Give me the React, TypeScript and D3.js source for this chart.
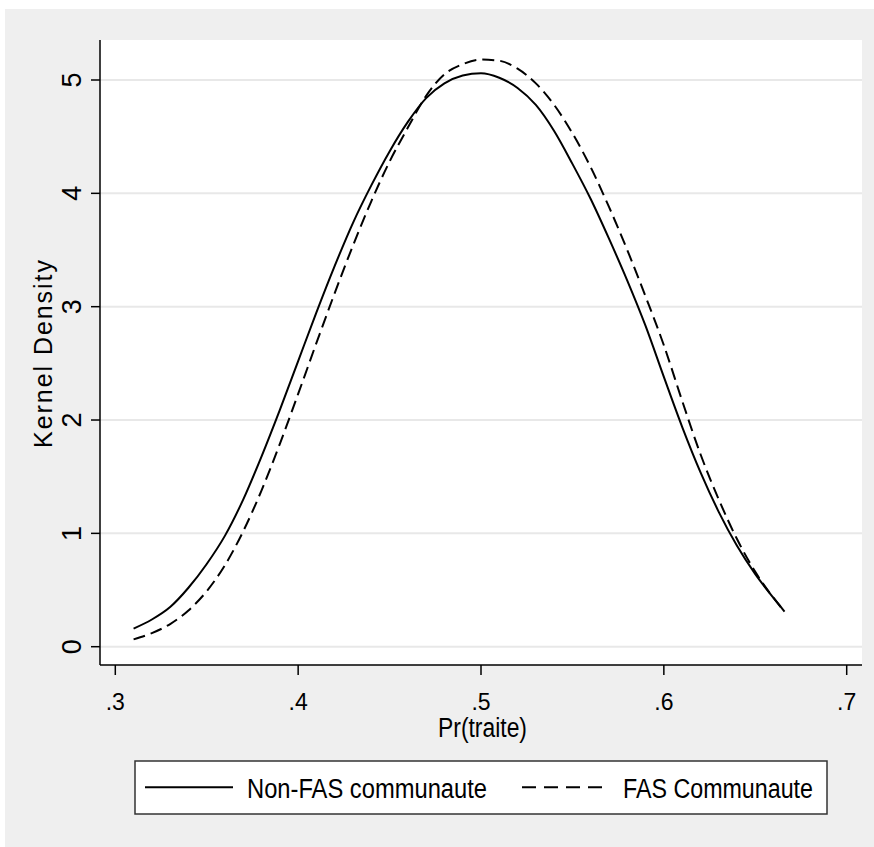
import React from "react";
import * as d3 from "d3";

// kernel density estimates
const xGrid = [
  0.31, 0.32, 0.33, 0.34, 0.35, 0.36, 0.37, 0.38, 0.39, 0.4, 0.41, 0.42, 0.43,
  0.44, 0.45, 0.46, 0.47, 0.48, 0.49, 0.5, 0.51, 0.52, 0.53, 0.54, 0.55, 0.56,
  0.57, 0.58, 0.59, 0.6, 0.61, 0.62, 0.63, 0.64, 0.65, 0.66, 0.666,
];
const nonFas = [
  0.16, 0.24, 0.35, 0.52, 0.73, 0.98, 1.3, 1.68, 2.09, 2.52, 2.95, 3.36, 3.74,
  4.07, 4.37, 4.63, 4.84, 4.97, 5.04, 5.06, 5.02, 4.93, 4.78, 4.55, 4.26, 3.95,
  3.6, 3.23, 2.83, 2.38, 1.94, 1.54, 1.19, 0.89, 0.64, 0.43, 0.31,
];
const fas = [
  0.065, 0.12, 0.2, 0.32, 0.49, 0.72, 1.02, 1.38, 1.79, 2.23, 2.68, 3.12, 3.54,
  3.93, 4.28, 4.58, 4.86, 5.05, 5.14, 5.18, 5.17, 5.1, 4.97, 4.78, 4.53, 4.23,
  3.88, 3.5, 3.09, 2.66, 2.17, 1.7, 1.3, 0.95, 0.66, 0.43, 0.31,
];
const xTicks = [0.3, 0.4, 0.5, 0.6, 0.7];
const yTicks = [0, 1, 2, 3, 4, 5];
const seriesNames = ["Non-FAS communaute", "FAS Communaute"];

const W = 874;
const H = 847;
const plot = { left: 100, right: 862, top: 40, bottom: 665 };
const font = "'Liberation Sans', Arial, sans-serif";

export default function App() {
  const x = d3.scaleLinear().domain([0.3, 0.7]).range([115.3, 846.7]);
  const y = d3.scaleLinear().domain([0, 5]).range([646.7, 80]);

  const line = d3
    .line<number>()
    .x((_, i) => x(xGrid[i]))
    .y((d) => y(d))
    .curve(d3.curveMonotoneX);

  const fmt = (v: number) => d3.format(".1f")(v).replace(/^0/, "");

  return (
    <svg
      width={W}
      height={H}
      style={{ position: "absolute", left: 0, top: 0 }}
      fontFamily={font}
    >
      <rect x={0} y={0} width={W} height={H} fill="#fff" />
      <rect x={5} y={9} width={W - 5} height={H - 9} fill="#efefef" />
      <rect
        x={plot.left}
        y={plot.top}
        width={plot.right - plot.left}
        height={plot.bottom - plot.top}
        fill="#fff"
      />

      {/* grid */}
      {yTicks.map((t) => (
        <line
          key={"g" + t}
          x1={plot.left}
          x2={plot.right}
          y1={y(t)}
          y2={y(t)}
          stroke="#e8e8e8"
          strokeWidth={2}
        />
      ))}

      {/* curves */}
      <path d={line(nonFas) || ""} fill="none" stroke="#000" strokeWidth={2} />
      <path
        d={line(fas) || ""}
        fill="none"
        stroke="#000"
        strokeWidth={2}
        strokeDasharray="12,6"
      />

      {/* axes */}
      <line x1={plot.left} x2={plot.left} y1={plot.top} y2={plot.bottom} stroke="#000" strokeWidth={1.5} />
      <line x1={plot.left} x2={plot.right} y1={plot.bottom} y2={plot.bottom} stroke="#000" strokeWidth={1.5} />

      {yTicks.map((t) => (
        <g key={"y" + t}>
          <line x1={91} x2={plot.left} y1={y(t)} y2={y(t)} stroke="#000" strokeWidth={1.5} />
          <text
            transform={`translate(81,${y(t)}) rotate(-90)`}
            textAnchor="middle"
            fontSize={27}
          >
            {t}
          </text>
        </g>
      ))}

      {xTicks.map((t) => (
        <g key={"x" + t}>
          <line x1={x(t)} x2={x(t)} y1={plot.bottom} y2={675} stroke="#000" strokeWidth={1.5} />
          <text x={x(t)} y={710} textAnchor="middle" fontSize={23}>
            {fmt(t)}
          </text>
        </g>
      ))}

      <text
        x={482.5}
        y={737}
        textAnchor="middle"
        fontSize={27}
        textLength={89}
        lengthAdjust="spacingAndGlyphs"
      >
        Pr(traite)
      </text>
      <text
        transform="translate(52,354) rotate(-90)"
        textAnchor="middle"
        fontSize={25}
        textLength={188}
        lengthAdjust="spacing"
      >
        Kernel Density
      </text>

      {/* legend */}
      <rect x={135} y={761} width={692} height={53} fill="#fff" stroke="#333" strokeWidth={1.5} />
      <line x1={145} x2={233} y1={787.3} y2={787.3} stroke="#000" strokeWidth={2} />
      <text x={247} y={798.3} fontSize={27} textLength={240} lengthAdjust="spacingAndGlyphs">
        {seriesNames[0]}
      </text>
      <line
        x1={522}
        x2={610}
        y1={787.3}
        y2={787.3}
        stroke="#000"
        strokeWidth={2}
        strokeDasharray="14,8"
      />
      <text x={623} y={798.3} fontSize={27} textLength={190} lengthAdjust="spacingAndGlyphs">
        {seriesNames[1]}
      </text>
    </svg>
  );
}
